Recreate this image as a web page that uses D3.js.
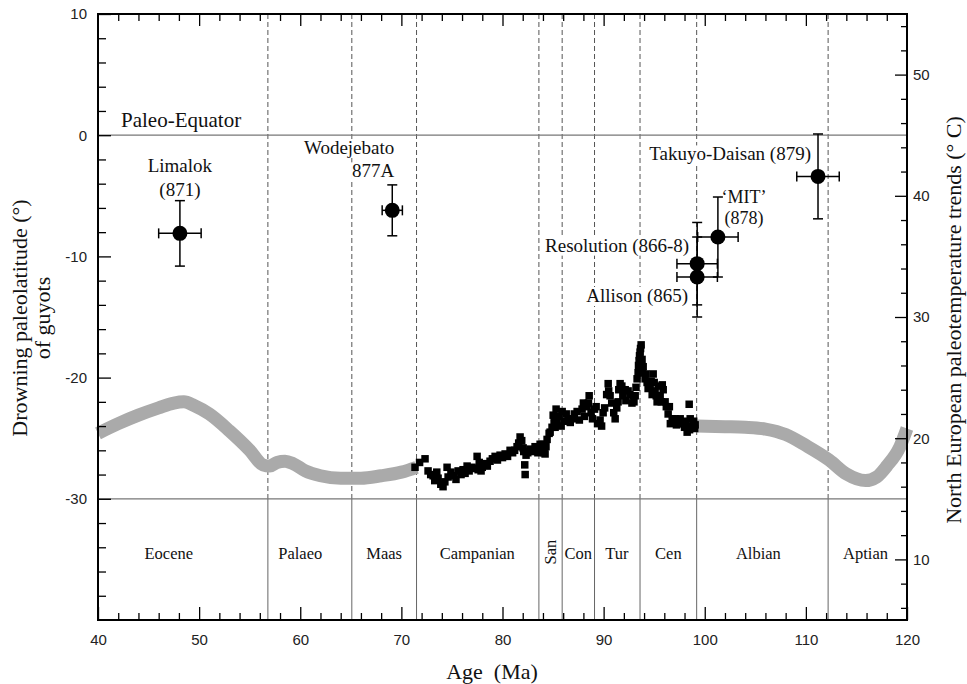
<!DOCTYPE html>
<html><head><meta charset="utf-8">
<script src="https://cdn.jsdelivr.net/npm/d3@7"></script>
<style>
body{margin:0;background:#fff;}
svg{display:block;background:#fff;}
.serif{font-family:"Liberation Serif","Times New Roman",serif;fill:#111;}
.tick text{font-family:"Liberation Sans",Arial,sans-serif;font-size:15px;fill:#222;}
</style></head><body>
<svg id="chart" width="967" height="684"></svg>
<script>
// Stratigraphic stage boundaries (Ma) and stage names
const stageBounds = [56.8, 65.1, 71.5, 83.6, 85.9, 89.1, 93.6, 99.2, 112.2];
const stageNames = ["Eocene", "Palaeo", "Maas", "Campanian", "San", "Con", "Tur", "Cen", "Albian", "Aptian"];
const stageLabelAge = [47.0, 60.0, 68.3, 77.5, 84.7, 87.5, 91.3, 96.4, 105.3, 115.9];

// Guyot drowning ages and paleolatitudes with uncertainties
const guyotAge = [48.1, 69.1, 111.2, 101.3, 99.25, 99.25];
const guyotAgeErr = [2.1, 1.0, 2.1, 2.0, 2.0, 2.0];
const guyotLat = [-8.1, -6.2, -3.4, -8.4, -10.6, -11.7];
const guyotLatErr = [2.7, 2.1, 3.5, 3.3, 3.4, 3.3];

// North European paleotemperature measurements (age Ma, °C)
const tempAge = [71.35,72.34,72.64,73.14,73.63,74.12,74.52,74.62,75.21,75.61,
  76.10,76.50,76.99,77.49,77.59,77.88,78.28,78.77,79.27,79.76,
  80.26,80.75,81.44,81.74,82.04,82.24,82.33,82.73,83.22,83.72,
  84.02,84.12,84.21,84.41,84.61,84.71,85.01,85.11,85.30,85.40,
  85.90,86.49,86.98,87.38,87.87,88.37,88.57,88.76,89.26,89.65,
  89.95,90.45,90.64,91.14,91.43,91.63,92.13,92.42,92.92,93.12,
  93.31,93.41,93.51,93.61,93.71,93.91,94.10,94.30,94.60,94.90,
  95.09,95.29,95.59,95.89,96.08,96.38,96.78,97.07,97.57,97.86,
  98.26,98.46,98.56,99.05,
  71.8,72.9,73.3,73.5,73.9,74.3,74.9,75.4,75.9,76.3,
  76.7,77.2,77.7,78.0,78.5,79.0,79.5,80.0,80.5,81.0,
  81.2,81.6,81.9,82.1,82.2,82.5,82.9,83.0,83.4,83.5,
  83.9,84.3,84.9,85.1,85.2,85.6,85.8,86.1,86.3,86.7,
  87.1,87.6,88.0,88.1,88.5,88.9,89.1,89.4,89.8,90.1,
  90.3,90.5,90.8,91.0,91.3,91.5,91.8,91.9,92.2,92.6,
  92.8,93.0,93.2,93.45,93.55,93.65,93.8,93.85,94.2,94.4,
  94.7,94.8,95.0,95.2,95.4,95.7,95.8,96.2,96.5,96.6,
  96.9,97.2,97.4,97.7,98.0,98.1,98.3,98.5,98.7,98.9,99.0];
const tempVal = [17.6,18.3,17.3,16.9,16.7,16.0,17.6,16.8,16.9,17.3,
  17.4,17.7,17.6,18.5,17.4,17.3,17.9,18.1,18.5,18.6,
  18.7,19.0,19.3,20.1,19.2,17.0,18.6,19.1,19.3,19.5,
  19.5,18.8,18.7,19.9,20.4,20.5,21.9,21.8,22.4,21.4,
  22.2,21.6,21.6,22.2,22.4,22.6,23.5,22.1,22.6,21.5,
  22.1,24.5,23.5,21.6,23.0,24.5,24.0,23.9,23.5,23.5,
  24.9,25.4,26.4,27.1,27.7,25.9,24.9,24.6,24.2,25.3,
  23.9,23.0,23.5,24.0,23.0,22.0,21.6,21.6,21.6,21.2,
  20.5,22.8,21.6,21.1,
  18.0,17.0,16.5,17.2,16.2,16.4,17.2,16.6,17.0,17.1,
  17.3,17.5,18.0,17.6,17.7,18.3,18.2,18.4,18.5,18.8,
  19.0,19.6,19.8,18.9,17.8,18.8,18.9,19.0,19.1,18.8,
  19.2,19.3,20.9,21.2,20.9,21.8,21.0,21.4,22.0,21.3,
  22.0,21.5,22.9,21.8,22.9,21.6,22.4,21.2,21.0,22.5,
  23.6,23.9,22.9,22.1,22.5,24.0,24.3,23.5,23.1,23.6,
  22.9,23.0,24.2,26.0,26.8,27.4,26.5,25.4,25.3,24.1,
  24.7,23.6,24.6,23.5,24.3,23.0,24.4,22.6,22.6,21.2,
  21.3,21.1,21.4,21.2,20.9,21.4,21.0,20.7,21.0,21.4,20.8];

// Smoothed temperature trend (°C), Cenozoic–Maastrichtian and Albian–Aptian parts
const trendEarlyAge = [40, 42, 44, 46, 47.5, 48.5, 49.5, 51, 53, 55, 56.3, 57, 57.7, 58.5, 59.3, 60.5, 62, 64, 66, 68, 70, 71.5];
const trendEarlyTemp = [20.4, 21.2, 21.9, 22.5, 22.9, 23.0, 22.7, 22.0, 20.6, 19.0, 17.8, 17.7, 18.0, 18.1, 17.9, 17.3, 16.9, 16.7, 16.7, 16.9, 17.2, 17.6];
const trendLateAge = [99.2, 102, 104, 106, 108, 110, 112.3, 114, 115.9, 117, 118, 119.3, 120];
const trendLateTemp = [21.0, 20.95, 20.9, 20.75, 20.3, 19.4, 18.2, 17.05, 16.5, 16.8, 17.7, 19.3, 20.8];

const svg = d3.select("#chart");
const L = 98, R = 907, T = 14, B = 620;
const x = d3.scaleLinear([40, 120], [L, R]);
const yLat = d3.scaleLinear([-40, 10], [B, T]);
const yTemp = d3.scaleLinear([5, 55], [B, T]);
const yMid = yLat(-30);

// stage boundaries: dashed above the stage strip, solid inside it
svg.append("g").selectAll("line").data(stageBounds).join("line")
  .attr("x1", d => x(d)).attr("x2", d => x(d))
  .attr("y1", T).attr("y2", yMid)
  .attr("stroke", "#555").attr("stroke-width", 1).attr("stroke-dasharray", "5,3");
svg.append("g").selectAll("line").data(stageBounds).join("line")
  .attr("x1", d => x(d)).attr("x2", d => x(d))
  .attr("y1", yMid).attr("y2", B)
  .attr("stroke", "#666").attr("stroke-width", 1);

// paleo-equator and stage strip top
[0, -30].forEach(v => svg.append("line")
  .attr("x1", L).attr("x2", R).attr("y1", yLat(v)).attr("y2", yLat(v))
  .attr("stroke", "#777").attr("stroke-width", 1.3));

// smoothed trend bands
const trendLine = d3.line().x(d => x(d[0])).y(d => yTemp(d[1])).curve(d3.curveMonotoneX);
[[trendEarlyAge, trendEarlyTemp], [trendLateAge, trendLateTemp]].forEach(([a, t]) => {
  svg.append("path").datum(a.map((v, i) => [v, t[i]]))
    .attr("d", trendLine).attr("fill", "none")
    .attr("stroke", "#aaaaaa").attr("stroke-width", 13);
});

// temperature measurements
const sq = 7.5;
svg.append("g").selectAll("rect").data(tempAge.map((a, i) => [a, tempVal[i]])).join("rect")
  .attr("x", d => x(d[0]) - sq / 2).attr("y", d => yTemp(d[1]) - sq / 2)
  .attr("width", sq).attr("height", sq).attr("fill", "#000");

// axes
function ticksEvery(lo, hi, step, skip) {
  return d3.range(lo, hi + 0.001, step).filter(v => Math.abs(v % skip) > 1e-6);
}
const noLabel = () => "";
const style = g => { g.select(".domain").remove(); g.selectAll(".tick line").attr("stroke", "#000").attr("stroke-width", 1.3); };

svg.append("g").attr("transform", `translate(${L},0)`)
  .call(d3.axisLeft(yLat).tickValues([-30, -20, -10, 0, 10]).tickSizeInner(-13).tickSizeOuter(0).tickPadding(11).tickFormat(d => String(d))).call(style);
svg.append("g").attr("transform", `translate(${L},0)`)
  .call(d3.axisLeft(yLat).tickValues(ticksEvery(-38, 8, 2, 10)).tickSizeInner(-8).tickSizeOuter(0).tickFormat(noLabel)).call(style);

svg.append("g").attr("transform", `translate(${R},0)`)
  .call(d3.axisRight(yTemp).tickValues([10, 20, 30, 40, 50]).tickSizeInner(-12).tickSizeOuter(0).tickPadding(6).tickFormat(d => String(d))).call(style);
svg.append("g").attr("transform", `translate(${R},0)`)
  .call(d3.axisRight(yTemp).tickValues(ticksEvery(6, 54, 2, 10)).tickSizeInner(-6).tickSizeOuter(0).tickFormat(noLabel)).call(style);

svg.append("g").attr("transform", `translate(0,${B})`)
  .call(d3.axisBottom(x).tickValues(d3.range(40, 121, 10)).tickSizeInner(-13).tickSizeOuter(0).tickPadding(14).tickFormat(d => String(d))).call(style);
svg.append("g").attr("transform", `translate(0,${B})`)
  .call(d3.axisBottom(x).tickValues(ticksEvery(42, 118, 2, 10)).tickSizeInner(-7).tickSizeOuter(0).tickFormat(noLabel)).call(style);
svg.append("g").attr("transform", `translate(0,${T})`)
  .call(d3.axisTop(x).tickValues(d3.range(50, 111, 10)).tickSizeInner(-12).tickSizeOuter(0).tickFormat(noLabel)).call(style);
svg.append("g").attr("transform", `translate(0,${T})`)
  .call(d3.axisTop(x).tickValues(ticksEvery(42, 118, 2, 10)).tickSizeInner(-7).tickSizeOuter(0).tickFormat(noLabel)).call(style);

// frame
svg.append("rect").attr("x", L).attr("y", T).attr("width", R - L).attr("height", B - T)
  .attr("fill", "none").attr("stroke", "#000").attr("stroke-width", 2);

// stage names
stageNames.forEach((n, i) => {
  const t = svg.append("text").attr("class", "serif").style("font-size", "16.5px")
    .attr("text-anchor", "middle").text(n);
  if (n === "San") t.attr("transform", `translate(${x(stageLabelAge[i]) + 6},552) rotate(-90)`);
  else t.attr("x", x(stageLabelAge[i])).attr("y", 559);
});

// guyot labels: one text per label, one tspan per line,
// with a white backing so boundary lines do not run through the words
const labelG = svg.append("g");
function label(lines, px, py, anchor, dx, dys, backed, size) {
  const t = labelG.append("text").attr("class", "serif")
    .style("font-size", (size || 19) + "px").attr("text-anchor", anchor);
  const spans = lines.map((s, k) => t.append("tspan")
    .attr("x", px + dx).attr("y", py + dys[k]).text(s));
  if (backed) spans.forEach(sp => {
    const b = sp.node().getBBox();
    labelG.insert("rect", "text").attr("x", b.x - 1).attr("y", b.y + 2)
      .attr("width", b.width + 2).attr("height", b.height - 3).attr("fill", "#fff");
  });
}
const gx = guyotAge.map(x), gy = guyotLat.map(yLat);
label(["Limalok", "(871)"], gx[0], gy[0], "middle", 0, [-61, -37], true);
label(["Wodejebato", "877A"], gx[1], gy[1], "end", 2, [-56, -33], true);
label(["Takuyo-Daisan (879)"], gx[2], gy[2], "end", -7, [-16], true);
label(["\u2018MIT\u2019", "(878)"], gx[3], gy[3], "middle", 26, [-34, -13], false, 18);
label(["Resolution (866-8)"], gx[4], gy[4], "end", -8, [-12], true);
label(["Allison (865)"], gx[5], gy[5], "end", -9, [25], true);

svg.append("text").attr("class", "serif").style("font-size", "21px")
  .attr("x", 121).attr("y", yLat(0) - 8).text("Paleo-Equator");

// guyot error bars and points
const cap = 5;
const eg = svg.append("g").attr("stroke", "#000").attr("stroke-width", 1.5);
guyotAge.forEach((a, i) => {
  const cx = x(a), cy = yLat(guyotLat[i]);
  const x0 = x(a - guyotAgeErr[i]), x1 = x(a + guyotAgeErr[i]);
  const y0 = yLat(guyotLat[i] + guyotLatErr[i]), y1 = yLat(guyotLat[i] - guyotLatErr[i]);
  eg.append("line").attr("x1", x0).attr("x2", x1).attr("y1", cy).attr("y2", cy);
  eg.append("line").attr("x1", cx).attr("x2", cx).attr("y1", y0).attr("y2", y1);
  [x0, x1].forEach(v => eg.append("line").attr("x1", v).attr("x2", v).attr("y1", cy - cap).attr("y2", cy + cap));
  [y0, y1].forEach(v => eg.append("line").attr("x1", cx - cap).attr("x2", cx + cap).attr("y1", v).attr("y2", v));
});
svg.append("g").selectAll("circle").data(guyotAge).join("circle")
  .attr("cx", d => x(d)).attr("cy", (d, i) => yLat(guyotLat[i])).attr("r", 7.5).attr("fill", "#000");

// axis titles
svg.append("text").attr("class", "serif").style("font-size", "22px").attr("text-anchor", "middle")
  .attr("transform", "translate(27,318) rotate(-90)").text("Drowning paleolatitude (\u00b0)");
svg.append("text").attr("class", "serif").style("font-size", "22px").attr("text-anchor", "middle")
  .attr("transform", "translate(50,318) rotate(-90)").text("of guyots");
svg.append("text").attr("class", "serif").style("font-size", "22px").attr("text-anchor", "middle")
  .attr("transform", "translate(961,320) rotate(-90)").text("North European paleotemperature trends (\u00b0 C)");
svg.append("text").attr("class", "serif").style("font-size", "22px").attr("text-anchor", "middle")
  .style("white-space", "pre").attr("x", 492).attr("y", 679).text("Age  (Ma)");
</script>
</body></html>
